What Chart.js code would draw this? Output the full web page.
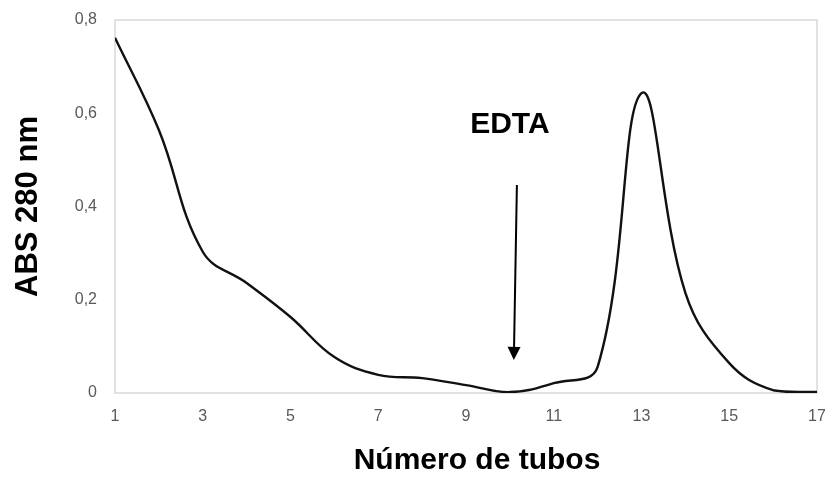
<!DOCTYPE html>
<html>
<head>
<meta charset="utf-8">
<script src="https://cdn.jsdelivr.net/npm/chart.js@4/dist/chart.umd.min.js"></script>
<style>
  html, body { margin: 0; padding: 0; background: #ffffff; }
  #wrap { width: 825px; height: 479px; position: relative; }
</style>
</head>
<body>
<div id="wrap"><canvas id="c" width="825" height="479"></canvas></div>
<script>
// Tube numbers and absorbance at 280 nm for each tube
const tubes = [1, 2, 3, 4, 5, 6, 7, 8, 9, 10, 11, 12, 13, 14, 15, 16, 17];
const absorbance = [0.762, 0.564, 0.303, 0.236, 0.163, 0.077, 0.039, 0.032, 0.017, 0.002,
                    0.021, 0.056, 0.643, 0.215, 0.064, 0.006, 0.002];

// Axis ranges and tick steps
const xRange = [1, 17];
const xStep = 2;
const yRange = [0, 0.8];
const yStep = 0.2;

// EDTA addition marker (data units)
const edtaLabel = 'EDTA';
const edtaText = { x: 10.0, y: 0.575 };
const edtaArrowFrom = { x: 10.16, y: 0.446 };
const edtaArrowTo = { x: 10.09, y: 0.071 };

const xTitle = 'Número de tubos';
const yTitle = 'ABS 280 nm';

const FONT = "'Liberation Sans', Arial, sans-serif";
const TICK_COLOR = '#595959';

const points = tubes.map((t, i) => ({ x: t, y: absorbance[i] }));

// Plot frame, EDTA arrow and x-axis title
const decorations = {
  id: 'decorations',
  beforeDatasetsDraw(chart) {
    const { ctx, chartArea: a } = chart;
    ctx.save();
    ctx.strokeStyle = '#d9d9d9';
    ctx.lineWidth = 1.5;
    ctx.strokeRect(a.left, a.top, a.right - a.left, a.bottom - a.top);
    ctx.restore();
  },
  afterDatasetsDraw(chart) {
    const { ctx, scales: { x, y } } = chart;
    ctx.save();
    // arrow shaft
    const x1 = x.getPixelForValue(edtaArrowFrom.x), y1 = y.getPixelForValue(edtaArrowFrom.y);
    const x2 = x.getPixelForValue(edtaArrowTo.x), y2 = y.getPixelForValue(edtaArrowTo.y);
    const ang = Math.atan2(y2 - y1, x2 - x1);
    const headLen = 13, headHalf = 6.5;
    const bx = x2 - headLen * Math.cos(ang), by = y2 - headLen * Math.sin(ang);
    ctx.strokeStyle = '#000';
    ctx.lineWidth = 2;
    ctx.beginPath();
    ctx.moveTo(x1, y1);
    ctx.lineTo(bx, by);
    ctx.stroke();
    // arrow head
    ctx.fillStyle = '#000';
    ctx.beginPath();
    ctx.moveTo(x2, y2);
    ctx.lineTo(bx + headHalf * Math.sin(ang), by - headHalf * Math.cos(ang));
    ctx.lineTo(bx - headHalf * Math.sin(ang), by + headHalf * Math.cos(ang));
    ctx.closePath();
    ctx.fill();
    // EDTA label
    ctx.font = 'bold 30px ' + FONT;
    ctx.textAlign = 'center';
    ctx.textBaseline = 'middle';
    ctx.fillText(edtaLabel, x.getPixelForValue(edtaText.x), y.getPixelForValue(edtaText.y));
    // x-axis title
    ctx.fillStyle = '#000';
    ctx.font = 'bold 30px ' + FONT;
    ctx.fillText(xTitle, 477, 461);
    ctx.restore();
  }
};

new Chart(document.getElementById('c'), {
  type: 'line',
  data: {
    datasets: [{
      data: points,
      borderColor: '#111111',
      borderWidth: 2.4,
      pointRadius: 0,
      tension: 0.4,
      fill: false
    }]
  },
  options: {
    responsive: false,
    animation: false,
    devicePixelRatio: 1,
    layout: { padding: { top: 20, right: 8, left: 0, bottom: 0 } },
    plugins: { legend: { display: false }, tooltip: { enabled: false } },
    scales: {
      x: {
        type: 'linear',
        min: xRange[0], max: xRange[1],
        grid: { display: false, drawTicks: false },
        border: { display: false },
        ticks: {
          stepSize: xStep,
          color: TICK_COLOR,
          font: { family: FONT, size: 16 },
          padding: 14,
          maxRotation: 0
        },
        afterFit(scale) {
          scale.height = 86;
          scale.paddingLeft = 0;
          scale.paddingRight = 0;
        }
      },
      y: {
        type: 'linear',
        min: yRange[0], max: yRange[1],
        grid: { display: false, drawTicks: false },
        border: { display: false },
        ticks: {
          stepSize: yStep,
          color: TICK_COLOR,
          font: { family: FONT, size: 16 },
          padding: 18,
          callback: v => (v === 0 ? '0' : v.toFixed(1).replace('.', ','))
        },
        title: {
          display: true,
          text: yTitle,
          color: '#000',
          font: { family: FONT, size: 31, weight: 'bold', lineHeight: 1.2 },
          padding: { top: 10, bottom: 0 }
        },
        afterFit(scale) {
          scale.width = 115;
          scale.paddingTop = 0;
          scale.paddingBottom = 0;
        }
      }
    }
  },
  plugins: [decorations]
});
</script>
</body>
</html>
